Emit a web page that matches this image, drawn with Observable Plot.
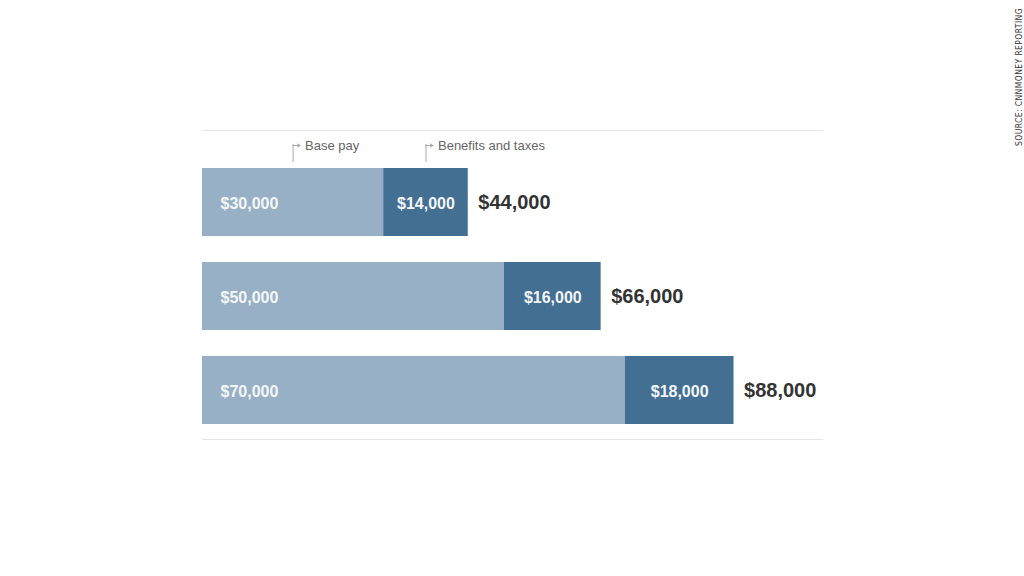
<!DOCTYPE html>
<html>
<head>
<meta charset="utf-8">
<script src="https://cdn.jsdelivr.net/npm/d3@7"></script>
<script src="https://cdn.jsdelivr.net/npm/@observablehq/plot@0.6"></script>
<style>
  html, body { margin: 0; padding: 0; background: #fff; }
  #wrap { position: relative; width: 1024px; height: 576px; overflow: hidden; }
  #source { position: absolute; left: 1014px; top: 146px; transform-origin: 0 0; transform: rotate(-90deg);
    font-family: "DejaVu Sans Condensed", "DejaVu Sans", sans-serif; font-size: 8.5px; color: #333; letter-spacing: 0.4px; white-space: nowrap; }
</style>
</head>
<body>
<div id="wrap"><div id="source">SOURCE: CNNMONEY REPORTING</div></div>
<script>
const rows = ["Worker 1", "Worker 2", "Worker 3"];
const basePay = [30000, 50000, 70000];
const benefits = [14000, 16000, 18000];
const legendLabels = ["Base pay", "Benefits and taxes"];

const fmt = d3.format("$,");
const data = rows.map((r, i) => ({
  row: r, base: basePay[i], ben: benefits[i], total: basePay[i] + benefits[i]
}));
const legend = [
  {row: rows[0], x: basePay[0] / 2, label: legendLabels[0]},
  {row: rows[0], x: basePay[0] + benefits[0] / 2, label: legendLabels[1]}
];

const light = "#98b0c5";
const dark = "#436f93";

const chart = Plot.plot({
  width: 1024,
  height: 576,
  marginLeft: 202,
  marginRight: 202,
  marginTop: 130,
  marginBottom: 137,
  style: {fontFamily: "'Liberation Sans', Arial, sans-serif", background: "#fff"},
  x: {domain: [0, 102650], axis: null},
  y: {domain: rows, axis: null, paddingInner: 0.275, paddingOuter: 0.2725, align: 0.72},
  marks: [
    Plot.frame({anchor: "top", stroke: "#e6e6e6"}),
    Plot.frame({anchor: "bottom", stroke: "#e6e6e6"}),
    Plot.barX(data, {y: "row", x1: 0, x2: "base", fill: light}),
    Plot.barX(data, {y: "row", x1: "base", x2: "total", fill: dark}),
    Plot.text(data, {y: "row", x: 0, dx: 18, dy: 1, text: d => fmt(d.base), textAnchor: "start",
      fill: "#f4f6f8", fontSize: 16, fontWeight: "bold"}),
    Plot.text(data, {y: "row", x: d => d.base + d.ben / 2, dy: 1, text: d => fmt(d.ben), textAnchor: "middle",
      fill: "#f4f6f8", fontSize: 16, fontWeight: "bold"}),
    Plot.text(data, {y: "row", x: "total", dx: 10, text: d => fmt(d.total), textAnchor: "start",
      fill: "#333", fontSize: 20, fontWeight: "bold"}),
    // legend brackets
    Plot.tickX(legend, {x: "x", y: "row", insetTop: 0, insetBottom: 50, dy: -24, stroke: "#aaa", strokeWidth: 1}),
    Plot.ruleY(legend, {y: "row", x1: "x", x2: d => d.x + 900, dy: -57, stroke: "#aaa", strokeWidth: 1}),
    Plot.dot(legend, {y: "row", x: d => d.x + 900, dy: -57, symbol: "triangle", rotate: 90, r: 1.6, fill: "#aaa", stroke: null}),
    Plot.text(legend, {y: "row", x: "x", dx: 12, dy: -57, text: "label", textAnchor: "start",
      fill: "#666", fontSize: 13})
  ]
});
document.getElementById("wrap").prepend(chart);
</script>
</body>
</html>
